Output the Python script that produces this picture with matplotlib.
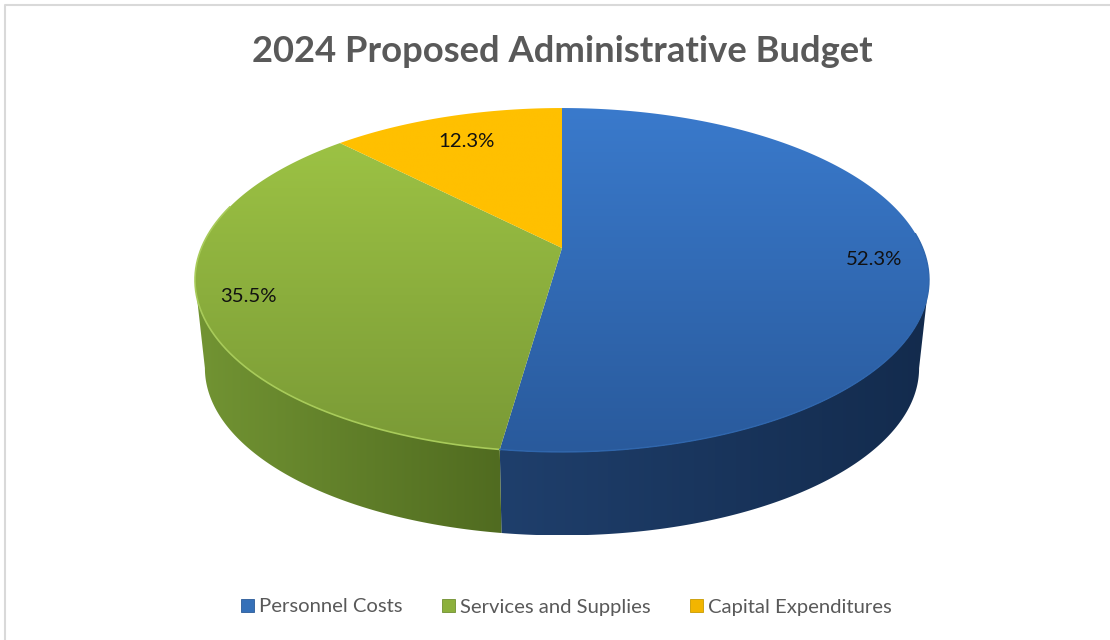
"""2024 proposed administrative budget, drawn as a perspective 3D pie."""
import matplotlib
matplotlib.use("Agg")
import matplotlib.pyplot as plt
from matplotlib.patches import Patch, Polygon
from matplotlib.lines import Line2D
import numpy as np

plt.rcParams["font.family"] = ["Lato", "DejaVu Sans"]

categories = ["Personnel Costs", "Services and Supplies", "Capital Expenditures"]
shares = [52.3, 35.5, 12.3]
share_labels = ["52.3%", "35.5%", "12.3%"]
title = "2024 Proposed Administrative Budget"

# top/bottom colours of the upper face, left/right colours of the side wall
face_cols = [("#3a7acc", "#295a9c"), ("#9cc244", "#7a9a36"), ("#ffc000", "#ffc000")]
side_cols = [("#1f3f6c", "#132b4d"), ("#729433", "#506b20")]
legend_cols = ["#3570b8", "#8cb03c", "#f2b500"]
legend_edges = ["#2a5a98", "#6f8f30", "#c89a00"]
label_radius = [0.857, 0.87, 0.80]

# projection of the unit circle, in pixels
CX, CY = 562, 248
A, B, K = 360.6, 166.0, 0.186
# lower rim of the wall
SCALE, DROP = 0.973, 89
# where the rim is widest on screen, the wall stops there
TANGENT = np.arccos(-K)


def project(theta, r=1.0, scale=1.0, drop=0):
    # theta is clockwise from 12 o'clock
    u, v = r * np.sin(theta), r * np.cos(theta)
    w = 1 + K * v
    return CX + scale * A * u / w, CY + drop - scale * B * v / w


def gradient_fill(ax, pts, c0, c1, horizontal=False):
    poly = Polygon(pts, closed=True, fc="none", ec="none")
    ax.add_patch(poly)
    rgb0, rgb1 = np.array(matplotlib.colors.to_rgb(c0)), np.array(matplotlib.colors.to_rgb(c1))
    t = np.linspace(0, 1, 256)[:, None]
    img = rgb0 + (rgb1 - rgb0) * t
    img = img[None, :, :] if horizontal else img[:, None, :]
    xs, ys = pts[:, 0], pts[:, 1]
    im = ax.imshow(img, extent=(xs.min(), xs.max(), ys.max(), ys.min()),
                   aspect="auto", interpolation="bilinear", zorder=2)
    im.set_clip_path(poly)


fig = plt.figure(figsize=(11.1, 6.4), dpi=100)
ax = fig.add_axes([0, 0, 1, 1])

edges = np.radians(np.concatenate([[0], np.cumsum(shares)]) / sum(shares) * 360)

# side walls first: the two front slices only
wall_spans = [(TANGENT, edges[1]), (edges[1], 2 * np.pi - TANGENT)]
for (lo, hi), (c0, c1) in zip(wall_spans, side_cols):
    th = np.linspace(lo, hi, 200)
    top = np.column_stack(project(th))
    bot = np.column_stack(project(th, scale=SCALE, drop=DROP))
    pts = np.vstack([top, bot[::-1]])
    gradient_fill(ax, pts, c0, c1, horizontal=True)

# upper face
for i in range(len(shares)):
    th = np.linspace(edges[i], edges[i + 1], 300)
    xs, ys = project(th)
    pts = np.vstack([[CX, CY], np.column_stack([xs, ys])])
    gradient_fill(ax, pts, *face_cols[i])

# pale rim along the front edge of the green slice, fainter one on the blue
th = np.linspace(edges[1], np.radians(285), 200)
ax.plot(*project(th), color="#a8cb5a", lw=1.2, zorder=3)
th = np.linspace(np.radians(85), edges[1], 200)
ax.plot(*project(th), color="#2f66ad", lw=1.0, zorder=3)

# data labels
for i, lab in enumerate(share_labels):
    mid = (edges[i] + edges[i + 1]) / 2
    x, y = project(mid, r=label_radius[i])
    ax.text(x, y + 1.5, lab, ha="center", va="center", fontsize=14.7, color="#111111", zorder=4)

ax.text(562, 52, title, ha="center", va="center", fontsize=26.2, fontweight="bold", color="#595959")

handles = [Patch(facecolor=c, edgecolor=e, lw=0.6) for c, e in zip(legend_cols, legend_edges)]
ax.legend(handles, categories, loc="center left", bbox_to_anchor=(241 / 1110, 1 - 607 / 640),
          ncol=3, frameon=False, fontsize=14.6, labelcolor="#595959", borderpad=0, borderaxespad=0,
          handlelength=0.62, handleheight=0.62, handletextpad=0.25, columnspacing=1.97)

# chart frame, only left and top edges survive in the crop
ax.add_line(Line2D([5, 5, 1110], [640, 5, 5], color="#d9d9d9", lw=1.5, zorder=1))

ax.set_xlim(0, 1110)
ax.set_ylim(640, 0)
ax.axis("off")
fig.savefig("out.png", dpi=100)
